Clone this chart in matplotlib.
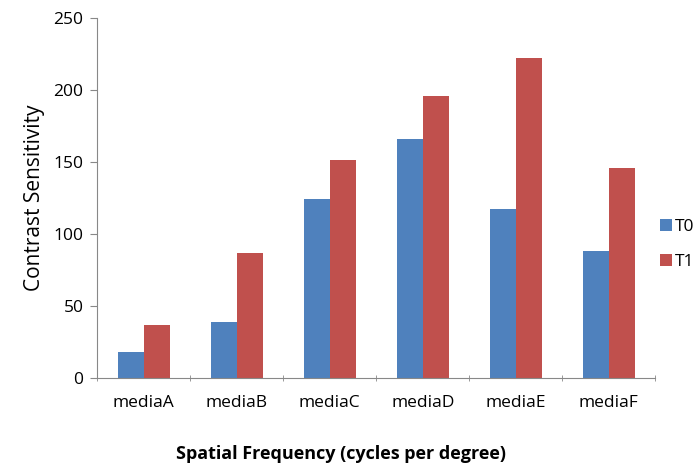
import numpy as np
import matplotlib.pyplot as plt

plt.rcParams['font.family'] = ['Open Sans', 'DejaVu Sans']

categorias = ['mediaA', 'mediaB', 'mediaC', 'mediaD', 'mediaE', 'mediaF']
t0 = [18, 39, 124, 166, 117, 88]
t1 = [37, 87, 151, 196, 222, 146]

fig = plt.figure(figsize=(7, 4.69), dpi=100)
ax = fig.add_axes([0.139, 0.194, 0.797, 0.768])

x = np.arange(len(categorias))
larg = 0.28
ax.bar(x - larg / 2, t0, larg, color='#4F81BD', label='T0')
ax.bar(x + larg / 2, t1, larg, color='#C0504D', label='T1')

ax.set_xlim(-0.5, len(categorias) - 0.5)
ax.set_ylim(0, 250)
ax.set_yticks(np.arange(0, 251, 50))
ax.set_xticks(x)
ax.set_xticklabels(categorias, fontsize=12.5)
ax.set_xticks(np.arange(-0.5, len(categorias)), minor=True)
ax.tick_params(axis='x', which='major', length=0, pad=12)
ax.tick_params(axis='x', which='minor', length=5, direction='inout', color='#888888')
ax.tick_params(axis='y', labelsize=12.5, length=5, color='#888888', pad=5)

for lado in ['top', 'right']:
    ax.spines[lado].set_visible(False)
for lado in ['left', 'bottom']:
    ax.spines[lado].set_color('#888888')

ax.set_ylabel('Contrast Sensitivity', fontsize=15, labelpad=6)
ax.set_xlabel('Spatial Frequency (cycles per degree)', fontsize=13, fontweight='bold')
ax.xaxis.set_label_coords(0.437, -0.186)

ax.legend(loc='center left', bbox_to_anchor=(1.008, 0.37), frameon=False,
          fontsize=12.5, handlelength=0.7, handleheight=0.7, labelspacing=1.1,
          handletextpad=0.2, borderpad=0, borderaxespad=0)

plt.savefig('out.png')
